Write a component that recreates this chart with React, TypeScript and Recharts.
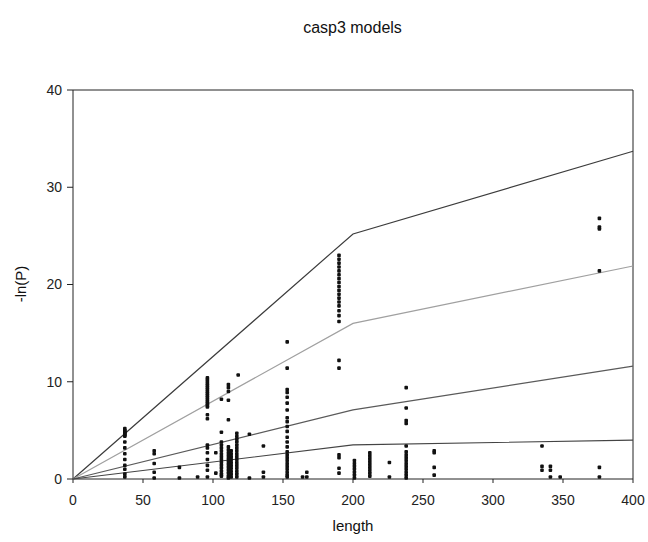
import { Label, ReferenceLine, Scatter, ScatterChart, XAxis, YAxis } from 'recharts'

// scatter columns: each length has a stack of -ln(P) scores
const colLengths = [37, 58, 76, 89, 96, 102, 106, 111, 113, 117, 118, 126, 136, 153, 164, 167, 190, 201, 212, 226, 238, 258, 335, 341, 348, 376]

const colScores = [
  [5.2, 5.0, 4.9, 4.8, 4.7, 4.6, 4.5, 4.4, 3.8, 3.2, 2.6, 2.0, 1.4, 1.0, 0.5, 0.2],
  [2.9, 2.6, 1.6, 0.7, 0.1],
  [1.2, 0.1],
  [0.2],
  [10.4, 10.2, 10.0, 9.8, 9.6, 9.4, 9.2, 9.0, 8.8, 8.6, 8.4, 8.2, 8.0, 7.8, 7.6, 7.4, 6.6, 6.2, 3.5, 3.2, 2.7, 2.0, 1.4, 0.9, 0.2],
  [2.7, 0.6],
  [8.2, 4.8, 3.8, 3.5, 3.2, 2.9, 2.6, 2.3, 2.0, 1.7, 1.4, 1.1, 0.8, 0.5, 0.3],
  [9.7, 9.4, 9.0, 8.1, 6.1, 3.3, 3.0, 2.7, 2.4, 2.1, 1.8, 1.5, 1.2, 0.9, 0.6, 0.3, 0.1],
  [2.9, 2.6, 2.3, 2.0, 1.7, 1.4, 1.1, 0.8, 0.5, 0.2],
  [4.7, 4.4, 4.1, 3.8, 3.5, 3.2, 2.9, 2.6, 2.3, 2.0, 1.7, 1.4, 1.1, 0.8, 0.5, 0.2],
  [10.7],
  [4.6, 0.1],
  [3.4, 0.7, 0.2],
  [14.1, 11.4, 9.2, 8.9, 8.4, 7.8, 7.1, 6.3, 5.9, 5.4, 4.9, 4.3, 3.8, 3.3, 2.8, 2.5, 2.2, 1.9, 1.6, 1.3, 1.0, 0.7, 0.4, 0.2],
  [0.2],
  [0.7, 0.2],
  [23.0, 22.6, 22.2, 21.8, 21.4, 21.0, 20.6, 20.2, 19.8, 19.4, 19.0, 18.6, 18.2, 17.8, 17.3, 16.8, 16.2, 12.2, 11.4, 2.5, 2.2, 1.1, 0.6],
  [1.9, 1.6, 1.3, 1.0, 0.7, 0.4, 0.1],
  [2.7, 2.4, 2.1, 1.8, 1.5, 1.2, 0.9, 0.6, 0.3],
  [1.7, 0.2],
  [9.4, 7.3, 6.0, 5.7, 3.4, 2.8, 2.5, 2.2, 1.9, 1.6, 1.3, 1.0, 0.7, 0.4, 0.1],
  [2.9, 2.7, 1.2, 0.4],
  [3.4, 1.3, 0.9],
  [1.3, 0.9, 0.2],
  [0.2],
  [26.8, 25.9, 25.7, 21.4, 1.2, 0.2],
]

// model curves
const lineLengths = [0, 200, 400]
const modelTop = [0, 25.2, 33.7]
const modelSecond = [0, 16.0, 21.9]
const modelThird = [0, 7.1, 11.6]
const modelBottom = [0, 3.5, 4.0]

const xTicks = [0, 50, 100, 150, 200, 250, 300, 350, 400]
const yTicks = [0, 10, 20, 30, 40]

const FONT = '"Liberation Sans", Arial, sans-serif'

const points = colLengths.flatMap((length, i) =>
  colScores[i].map((score) => ({ length, score })),
)

const toLine = (values: number[]) =>
  lineLengths.map((length, i) => ({ length, score: values[i] }))

const models = [
  { key: 'top', values: modelTop, color: '#3c3c3c' },
  { key: 'second', values: modelSecond, color: '#a0a0a0' },
  { key: 'third', values: modelThird, color: '#5a5a5a' },
  { key: 'bottom', values: modelBottom, color: '#444444' },
]

function Dot({ cx, cy }: { cx?: number; cy?: number }) {
  if (cx == null || cy == null) return null
  return <rect x={cx - 1.8} y={cy - 1.8} width={3.6} height={3.6} rx={1} fill="#111" />
}

function NoDot() {
  return <g />
}

const tickStyle = { fontSize: 14, fill: '#222', fontFamily: FONT }

export default function App() {
  return (
    <div style={{ position: 'absolute', left: 0, top: 0, width: 648, height: 542, background: '#fff' }}>
      <div
        style={{
          position: 'absolute',
          left: 0,
          width: 705,
          top: 19,
          textAlign: 'center',
          fontFamily: FONT,
          fontSize: 16,
          color: '#111',
        }}
      >
        casp3 models
      </div>

      <ScatterChart
        width={648}
        height={542}
        margin={{ top: 90, right: 15, bottom: 0, left: 0 }}
      >
        <XAxis
          type="number"
          dataKey="length"
          domain={[0, 400]}
          ticks={xTicks}
          height={63}
          tickSize={4}
          tickMargin={12}
          stroke="#222"
          tick={tickStyle}
        >
          <Label
            content={() => (
              <text x={353} y={531} textAnchor="middle" fontSize={15} fontFamily={FONT} fill="#111">
                length
              </text>
            )}
          />
        </XAxis>
        <YAxis
          type="number"
          dataKey="score"
          domain={[0, 40]}
          ticks={yTicks}
          width={73}
          tickSize={6}
          tickMargin={5}
          stroke="#222"
          tick={tickStyle}
        >
          <Label
            content={() => (
              <text
                x={20}
                y={284}
                textAnchor="middle"
                dominantBaseline="central"
                transform="rotate(-90 20 284)"
                fontSize={15}
                fontFamily={FONT}
                fill="#111"
              >
                -ln(P)
              </text>
            )}
          />
        </YAxis>

        <ReferenceLine y={40} stroke="#222" />
        <ReferenceLine x={400} stroke="#222" />

        {models.map((m) => (
          <Scatter
            key={m.key}
            data={toLine(m.values)}
            line={{ stroke: m.color, strokeWidth: 1.2 }}
            shape={NoDot}
            isAnimationActive={false}
          />
        ))}

        <Scatter data={points} shape={Dot} isAnimationActive={false} />
      </ScatterChart>
    </div>
  )
}
